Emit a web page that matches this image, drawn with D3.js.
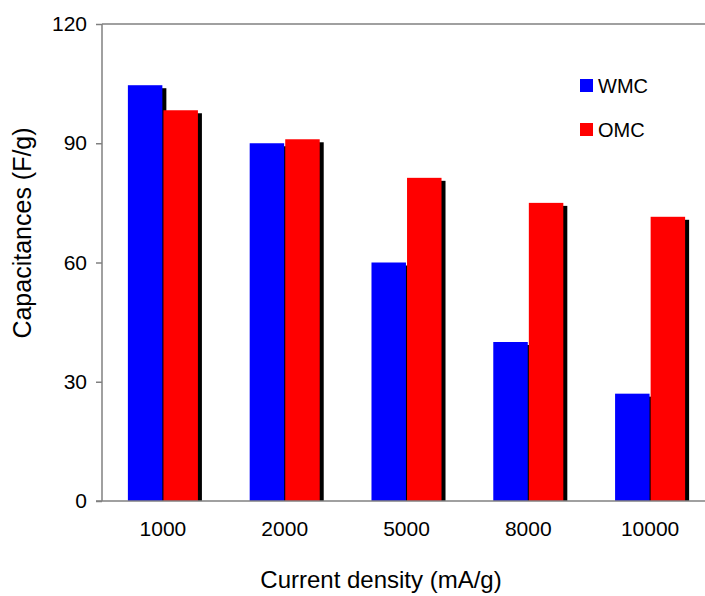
<!DOCTYPE html>
<html>
<head>
<meta charset="utf-8">
<script src="https://cdn.jsdelivr.net/npm/d3@7"></script>
<style>
  body { margin: 0; background: #fff; }
  text { font-family: "Liberation Sans", Arial, sans-serif; fill: #000; }
</style>
</head>
<body>
<div id="chart"></div>
<script>
// chart data
var categories = ["1000", "2000", "5000", "8000", "10000"];
var seriesNames = ["WMC", "OMC"];
var wmcValues = [104.6, 90.0, 60.0, 40.0, 27.0];
var omcValues = [98.3, 91.0, 81.3, 75.0, 71.5];
var yTicks = [0, 30, 60, 90, 120];
var seriesColors = ["#0000ff", "#ff0000"];

var svgWidth = 705;
var svgHeight = 596;

var margin = {
  top: 24,
  right: -6,
  bottom: 95,
  left: 102
};
var width = svgWidth - margin.left - margin.right;
var height = svgHeight - margin.top - margin.bottom;

var svg = d3
  .select("#chart")
  .append("svg")
  .attr("width", svgWidth)
  .attr("height", svgHeight);

var chartGroup = svg.append("g")
  .attr("transform", `translate(${margin.left}, ${margin.top})`);

// build rows for the grouped bars
var rows = categories.map(function(c, i) {
  return { cat: c, values: [wmcValues[i], omcValues[i]] };
});

// scales
var x0 = d3.scaleBand()
  .domain(categories)
  .range([0, width])
  .paddingInner(0.425)
  .paddingOuter(0.2125);

var x1 = d3.scaleBand()
  .domain(seriesNames)
  .range([0, x0.bandwidth()])
  .paddingInner(0.03);

var y = d3.scaleLinear()
  .domain([0, 120])
  .range([height, 0]);

// top frame line
chartGroup.append("line")
  .attr("x1", 0)
  .attr("x2", width)
  .attr("y1", 0)
  .attr("y2", 0)
  .attr("stroke", "#808080")
  .attr("stroke-width", 1.5);

// bars with a black drop shadow
var shadowDx = 4;
var shadowDy = 3;

var groups = chartGroup.selectAll(".group")
  .data(rows)
  .enter()
  .append("g")
  .attr("class", "group")
  .attr("transform", d => `translate(${x0(d.cat)}, 0)`);

var bars = groups.selectAll(".bar")
  .data(d => d.values.map(function(v, i) { return { name: seriesNames[i], value: v, idx: i }; }))
  .enter()
  .append("g")
  .attr("class", "bar");

bars.append("rect")
  .attr("x", d => x1(d.name) + shadowDx)
  .attr("y", d => y(d.value) + shadowDy)
  .attr("width", x1.bandwidth())
  .attr("height", d => height - y(d.value) - shadowDy)
  .attr("fill", "#000");

bars.append("rect")
  .attr("x", d => x1(d.name))
  .attr("y", d => y(d.value))
  .attr("width", x1.bandwidth())
  .attr("height", d => height - y(d.value))
  .attr("fill", d => seriesColors[d.idx]);

// y axis
var leftAxis = d3.axisLeft(y)
  .tickValues(yTicks)
  .tickSize(6)
  .tickPadding(9);

var yAxis = chartGroup.append("g")
  .classed("y-axis", true)
  .call(leftAxis);

yAxis.select(".domain")
  .attr("d", `M0,0V${height}`)
  .attr("stroke", "#808080")
  .attr("stroke-width", 1.5);
yAxis.selectAll(".tick line")
  .attr("stroke", "#808080")
  .attr("stroke-width", 1.5);
yAxis.selectAll(".tick text")
  .attr("font-size", "21px")
  .attr("font-family", "Liberation Sans, Arial, sans-serif");

// x axis
var bottomAxis = d3.axisBottom(x0)
  .tickSize(0)
  .tickPadding(20);

var xAxis = chartGroup.append("g")
  .classed("x-axis", true)
  .attr("transform", `translate(0, ${height})`)
  .call(bottomAxis);

xAxis.select(".domain")
  .attr("d", `M-6,0H${width}`)
  .attr("stroke", "#808080")
  .attr("stroke-width", 1.5);
xAxis.selectAll(".tick text")
  .attr("font-size", "21px")
  .attr("font-family", "Liberation Sans, Arial, sans-serif");

// axis titles
chartGroup.append("text")
  .attr("transform", "rotate(-90)")
  .attr("x", -(233 - margin.top))
  .attr("y", 31 - margin.left)
  .attr("text-anchor", "middle")
  .attr("font-size", "25px")
  .text("Capacitances (F/g)");

chartGroup.append("text")
  .attr("x", 381 - margin.left)
  .attr("y", 588 - margin.top)
  .attr("text-anchor", "middle")
  .attr("font-size", "24px")
  .text("Current density (mA/g)");

// legend
var legend = svg.append("g")
  .attr("transform", "translate(580, 79)");

var legendItems = legend.selectAll(".legend-item")
  .data(seriesNames)
  .enter()
  .append("g")
  .attr("class", "legend-item")
  .attr("transform", (d, i) => `translate(0, ${i * 44})`);

legendItems.append("rect")
  .attr("width", 13)
  .attr("height", 13)
  .attr("fill", (d, i) => seriesColors[i]);

legendItems.append("text")
  .attr("x", 18)
  .attr("y", 14)
  .attr("font-size", "20px")
  .text(d => d);
</script>
</body>
</html>
